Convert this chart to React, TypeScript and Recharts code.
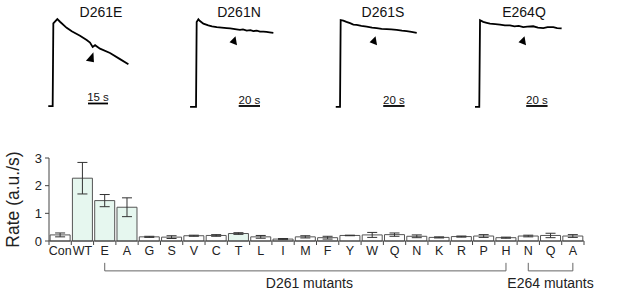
import React from 'react';
import {
  Bar,
  BarChart,
  Cell,
  ErrorBar,
  Line,
  LineChart,
  ReferenceDot,
  ReferenceLine,
  XAxis,
  YAxis,
} from 'recharts';

// ---- bar chart data ----
const categories = [
  'Con', 'WT', 'E261', 'A261', 'G261', 'S261', 'V261', 'C261', 'T261', 'L261', 'I261', 'M261',
  'F261', 'Y261', 'W261', 'Q261', 'N261', 'K261', 'R261', 'P261', 'H261', 'N264', 'Q264', 'A264',
];
const tickLabels = [
  'Con', 'WT', 'E', 'A', 'G', 'S', 'V', 'C', 'T', 'L', 'I', 'M',
  'F', 'Y', 'W', 'Q', 'N', 'K', 'R', 'P', 'H', 'N', 'Q', 'A',
];
const rates = [
  0.22, 2.27, 1.46, 1.22, 0.15, 0.14, 0.19, 0.2, 0.27, 0.15, 0.07, 0.15,
  0.12, 0.2, 0.22, 0.23, 0.17, 0.13, 0.16, 0.18, 0.12, 0.18, 0.2, 0.18,
];
const rateErrors = [
  0.07, 0.57, 0.22, 0.34, 0.02, 0.05, 0.02, 0.03, 0.03, 0.05, 0.02, 0.04,
  0.05, 0.01, 0.09, 0.06, 0.05, 0.02, 0.02, 0.05, 0.02, 0.03, 0.08, 0.05,
];
const yTicks = [0, 1, 2, 3];
const groups = [
  { name: 'D261 mutants', from: 'E261', to: 'H261', mid: 'M261' },
  { name: 'E264 mutants', from: 'N264', to: 'A264', mid: 'Q264' },
];

// ---- trace data (time in s, normalised signal) ----
const d261eTime = [-3.3, 0, 0.5, 3.5, 5.5, 10.5, 14.3, 20.5, 25.5, 28, 30, 31.8, 35.5, 43, 50.5, 56.8];
const d261eSignal = [0, 0, 0.95, 1.0, 0.97, 0.9, 0.86, 0.81, 0.76, 0.73, 0.68, 0.7, 0.66, 0.61, 0.54, 0.48];

const d261nTime = [-5.6, 0, 0.6, 2.2, 3.7, 6.9, 11.5, 15, 19.4, 24, 28.8, 32, 35, 38, 41.2, 44, 47.5, 51, 53.7, 57, 60, 63.1, 66, 69, 72.5];
const d261nSignal = [0, 0, 0.97, 1.0, 0.98, 0.95, 0.93, 0.92, 0.91, 0.905, 0.9, 0.895, 0.89, 0.885, 0.88, 0.885, 0.87, 0.875, 0.865, 0.87, 0.86, 0.86, 0.855, 0.85, 0.845];

const d261sTime = [-4, 0, 0.6, 3.1, 6, 9.4, 12.5, 15.6, 20, 25, 30, 34.4, 39, 43.8, 48, 53.1, 58, 62.5, 67, 71.9];
const d261sSignal = [0, 0, 0.99, 0.985, 0.97, 0.955, 0.94, 0.936, 0.925, 0.917, 0.905, 0.898, 0.89, 0.887, 0.885, 0.879, 0.87, 0.864, 0.855, 0.845];

const e264qTime = [-4, 0, 0.7, 3.7, 7, 10, 15, 19.4, 24, 28.8, 33, 37, 41.2, 45, 50.6, 55, 60, 64, 69.4, 73, 77.2];
const e264qSignal = [0, 0, 0.99, 0.97, 0.96, 0.95, 0.945, 0.94, 0.93, 0.93, 0.92, 0.925, 0.91, 0.915, 0.92, 0.905, 0.9, 0.91, 0.91, 0.9, 0.895];

const traceTitles = ['D261E', 'D261N', 'D261S', 'E264Q'];
const scaleBars = [[26.5, 41.5], [40, 60], [40.5, 60.5], [44, 64]];
const scaleLabels = ['15 s', '20 s', '20 s', '20 s'];
const arrowPoints = [[28.7, 0.55], [35.6, 0.75], [31.9, 0.75], [41, 0.75]];

// ---- layout / style ----
const FONT = '"Liberation Sans", Arial, Helvetica, sans-serif';
const AXIS = '#444';
const MINT = '#e6f7ef';
const filledBars = ['WT', 'E261', 'A261', 'T261'];

const CHART_W = 617;
const BAR_MARGIN = { top: 18, right: 33, left: 0, bottom: 0 };
const Y_AXIS_W = 49;
const PLOT_W = CHART_W - BAR_MARGIN.left - BAR_MARGIN.right - Y_AXIS_W;
const HALF_BAND = PLOT_W / categories.length / 2;

const insetLayout = [
  { left: 40, width: 100, x: [-9.5, 65.5], y: [-0.16, 1.22], arrow: 'up', scaleY: 0.03 },
  { left: 186, width: 96, x: [-9.4, 80.6], y: [-0.15, 1.22], arrow: 'left', scaleY: 0.01 },
  { left: 330, width: 96, x: [-9.4, 80.6], y: [-0.15, 1.22], arrow: 'left', scaleY: 0.01 },
  { left: 470, width: 96, x: [-8.7, 81.3], y: [-0.15, 1.22], arrow: 'left', scaleY: 0.01 },
];
const titleCenters = [101, 239, 383, 524];

const traces = [
  [d261eTime, d261eSignal],
  [d261nTime, d261nSignal],
  [d261sTime, d261sSignal],
  [e264qTime, e264qSignal],
].map(([t, v]) => t.map((time, i) => ({ t: time, v: v[i] })));

const barData = categories.map((key, i) => ({ key, rate: rates[i], err: rateErrors[i] }));

function arrowShape(kind: string) {
  return (props: any) => {
    const { cx, cy } = props;
    const pts =
      kind === 'up'
        ? [[2.5, -6], [-5, 2.5], [3, 4]]
        : [[-4.5, 1], [1.5, -5], [3, 4]];
    return (
      <polygon
        points={pts.map(([dx, dy]) => `${cx + dx},${cy + dy}`).join(' ')}
        fill='#000'
      />
    );
  };
}

function CategoryTick(props: any) {
  const { x, y, payload } = props;
  const index = props.index ?? categories.indexOf(payload.value);
  return (
    <g>
      <line x1={x - HALF_BAND} x2={x - HALF_BAND} y1={y} y2={y + 4} stroke={AXIS} />
      {index === categories.length - 1 && (
        <line x1={x + HALF_BAND} x2={x + HALF_BAND} y1={y} y2={y + 4} stroke={AXIS} />
      )}
      <text x={x} y={y + 13.5} textAnchor='middle' fontSize={12.5} fill='#222'>
        {tickLabels[index]}
      </text>
    </g>
  );
}

function Trace({ i }: { i: number }) {
  const lay = insetLayout[i];
  const [s0, s1] = scaleBars[i];
  return (
    <div style={{ position: 'absolute', left: lay.left, top: 0 }}>
      <LineChart
        width={lay.width}
        height={120}
        data={traces[i]}
        margin={{ top: 0, right: 0, bottom: 0, left: 0 }}
      >
        <XAxis dataKey='t' type='number' domain={lay.x} hide />
        <YAxis type='number' domain={lay.y} hide />
        <Line
          type='linear'
          dataKey='v'
          stroke='#000'
          strokeWidth={1.8}
          dot={false}
          isAnimationActive={false}
        />
        <ReferenceLine
          segment={[{ x: s0, y: lay.scaleY }, { x: s1, y: lay.scaleY }]}
          stroke='#000'
          strokeWidth={1.8}
          ifOverflow='visible'
          label={{ value: scaleLabels[i], position: 'top', offset: 2, fontSize: 11.5, fill: '#111' }}
        />
        <ReferenceDot
          x={arrowPoints[i][0]}
          y={arrowPoints[i][1]}
          ifOverflow='visible'
          shape={arrowShape(lay.arrow)}
        />
      </LineChart>
    </div>
  );
}

export default function App() {
  return (
    <div
      style={{
        position: 'absolute',
        left: 0,
        top: 0,
        width: 617,
        height: 295,
        background: '#fff',
        fontFamily: FONT,
      }}
    >
      {traceTitles.map((title, i) => (
        <div
          key={title}
          style={{
            position: 'absolute',
            left: titleCenters[i] - 40,
            width: 80,
            top: 4,
            textAlign: 'center',
            fontSize: 14,
            lineHeight: '16px',
            color: '#111',
          }}
        >
          {title}
        </div>
      ))}
      {traceTitles.map((title, i) => (
        <Trace key={title} i={i} />
      ))}

      <div style={{ position: 'absolute', left: 0, top: 140 }}>
        <BarChart
          width={CHART_W}
          height={155}
          data={barData}
          margin={BAR_MARGIN}
          barCategoryGap='5%'
        >
          <XAxis
            dataKey='key'
            interval={0}
            tickLine={false}
            tickSize={0}
            tickMargin={0}
            height={54}
            axisLine={{ stroke: AXIS }}
            tick={<CategoryTick />}
          />
          <YAxis
            width={Y_AXIS_W}
            domain={[0, 3]}
            ticks={yTicks}
            tickSize={4}
            tickMargin={3}
            axisLine={{ stroke: AXIS }}
            tickLine={{ stroke: AXIS }}
            tick={{ fontSize: 13, fill: '#222' }}
            label={{
              value: 'Rate (a.u./s)',
              angle: -90,
              position: 'insideLeft',
              offset: 13,
              fontSize: 17.5,
              fill: '#222',
              style: { textAnchor: 'middle' },
            }}
          />
          <Bar dataKey='rate' stroke='#555' strokeWidth={1} isAnimationActive={false}>
            {barData.map((d) => (
              <Cell key={d.key} fill={filledBars.includes(d.key) ? MINT : '#fff'} />
            ))}
            <ErrorBar dataKey='err' width={5} stroke='#333' strokeWidth={1} />
          </Bar>
          {groups.map((g) => (
            <ReferenceLine
              key={g.name + 'h'}
              segment={[{ x: g.from, y: -1.08 }, { x: g.to, y: -1.08 }]}
              stroke='#666'
              ifOverflow='visible'
            />
          ))}
          {groups.map((g) => (
            <ReferenceLine
              key={g.name + 'l'}
              segment={[{ x: g.from, y: -1.08 }, { x: g.from, y: -0.79 }]}
              stroke='#666'
              ifOverflow='visible'
            />
          ))}
          {groups.map((g) => (
            <ReferenceLine
              key={g.name + 'r'}
              segment={[{ x: g.to, y: -1.08 }, { x: g.to, y: -0.79 }]}
              stroke='#666'
              ifOverflow='visible'
            />
          ))}
          {groups.map((g, i) => (
            <ReferenceDot
              key={g.name}
              x={g.mid}
              y={-1.52}
              r={0}
              stroke='none'
              ifOverflow='visible'
              label={{ value: g.name, position: 'center', fontSize: 14, fill: '#222', dx: i === 0 ? 4 : 0 }}
            />
          ))}
        </BarChart>
      </div>
    </div>
  );
}
